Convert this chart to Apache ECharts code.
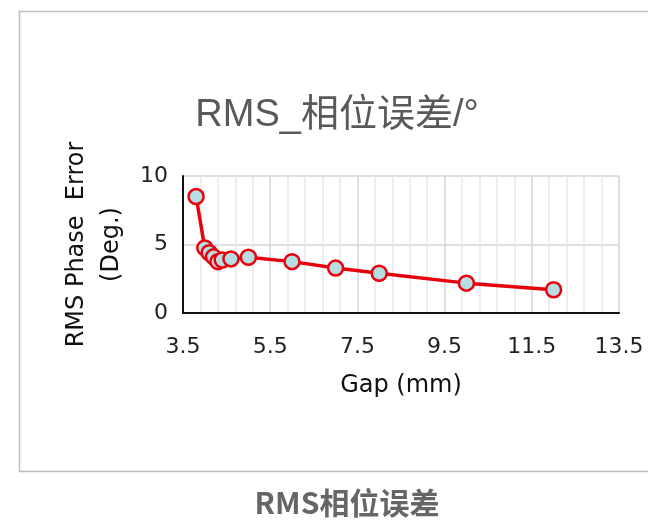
<!DOCTYPE html>
<html>
<head>
<meta charset="utf-8">
<script src="https://cdn.jsdelivr.net/npm/echarts@6/dist/echarts.min.js"></script>
<style>
  html, body { margin: 0; padding: 0; background: #ffffff; }
  #chart { width: 648px; height: 520px; }
</style>
</head>
<body>
<div id="chart"></div>
<script>
// Gap (mm) vs. RMS phase error (deg)
const gapMm = [3.8, 4.0, 4.1, 4.2, 4.3, 4.4, 4.6, 5.0, 6.0, 7.0, 8.0, 10.0, 12.0];
const rmsPhaseErr = [8.5, 4.75, 4.4, 4.1, 3.75, 3.87, 3.95, 4.07, 3.75, 3.28, 2.9, 2.18, 1.7];
const xTicks = [3.5, 5.5, 7.5, 9.5, 11.5, 13.5];
const yTicks = [0, 5, 10];

const chartTitle = 'RMS_相位误差/°';
const caption = 'RMS相位误差';
const xName = 'Gap (mm)';
const yName = 'RMS Phase  Error\n(Deg.)';

const titleFont = '"Liberation Sans", Arial, "Noto Sans CJK SC", sans-serif';
const axisFont = '"DejaVu Sans", "Liberation Sans", sans-serif';

const chart = echarts.init(document.getElementById('chart'), null, { renderer: 'canvas' });

chart.setOption({
  backgroundColor: '#ffffff',
  animation: false,
  title: [{
    text: chartTitle,
    left: 332,
    textAlign: 'center',
    top: 92,
    textStyle: { fontFamily: titleFont, fontSize: 38, fontWeight: 'normal', color: '#595959' }
  }, {
    text: caption,
    left: 342,
    textAlign: 'center',
    top: 483,
    textStyle: { fontFamily: '"Noto Sans CJK SC", sans-serif', fontSize: 30, fontWeight: 'bold', color: '#666666' }
  }],
  graphic: [{
    type: 'rect',
    shape: { x: 19.5, y: 11.5, width: 640, height: 460 },
    style: { fill: 'none', stroke: '#bdbdbd', lineWidth: 1.5 },
    silent: true,
    z: -1
  }],
  grid: { left: 183, right: 29, top: 176, bottom: 207, containLabel: false },
  xAxis: {
    type: 'value',
    min: xTicks[0],
    max: xTicks[xTicks.length - 1],
    interval: xTicks[1] - xTicks[0],
    name: xName,
    nameLocation: 'middle',
    nameGap: 61,
    nameTextStyle: { fontFamily: axisFont, fontSize: 24, color: '#111111' },
    axisLine: { show: true, onZero: false, lineStyle: { color: '#111111', width: 2 } },
    axisTick: { show: false },
    axisLabel: { fontFamily: axisFont, fontSize: 22, color: '#222222', margin: 23 },
    splitLine: { show: true, lineStyle: { color: '#d4d4d4', width: 1.5 } },
    minorTick: { show: false, splitNumber: 5 },
    minorSplitLine: { show: true, lineStyle: { color: '#e8e8e8', width: 1.5 } }
  },
  yAxis: {
    type: 'value',
    min: yTicks[0],
    max: yTicks[yTicks.length - 1],
    interval: yTicks[1] - yTicks[0],
    name: yName,
    nameLocation: 'middle',
    nameRotate: 90,
    nameGap: 52,
    nameTextStyle: { fontFamily: axisFont, fontSize: 24, color: '#111111', lineHeight: 35, align: 'center' },
    axisLine: { show: true, lineStyle: { color: '#111111', width: 2 } },
    axisTick: { show: false },
    axisLabel: { fontFamily: axisFont, fontSize: 22, color: '#222222', margin: 15 },
    splitLine: { show: true, lineStyle: { color: '#d4d4d4', width: 1.5 } }
  },
  series: [{
    type: 'line',
    data: gapMm.map((g, i) => [g, rmsPhaseErr[i]]),
    lineStyle: { color: '#e8000b', width: 3.5 },
    symbol: 'circle',
    symbolSize: 15,
    itemStyle: { color: '#b5dde2', borderColor: '#e8000b', borderWidth: 2.5 },
    z: 3
  }]
});
</script>
</body>
</html>
